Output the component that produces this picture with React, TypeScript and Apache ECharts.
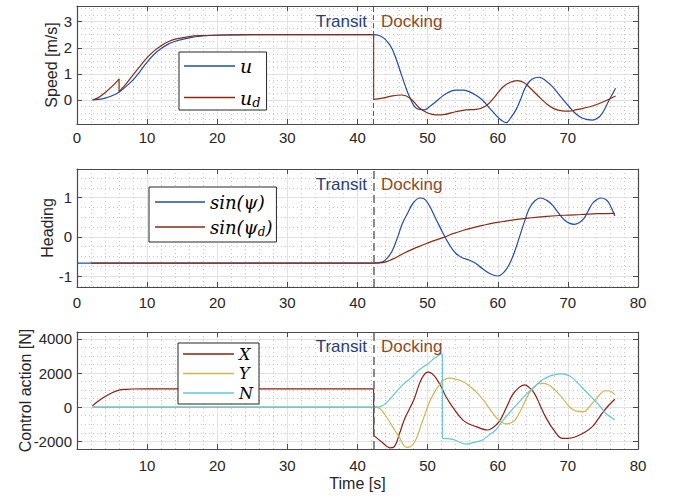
import React, { useEffect, useRef } from 'react';
import * as echarts from 'echarts';

// ---------- data ----------
const phaseTime = 42.3;
const xTickValues = [0, 10, 20, 30, 40, 50, 60, 70, 80];

const speedU = [
  [2.2, 0], [3, 0.02], [4, 0.07], [5, 0.16], [6, 0.3], [7, 0.52], [8, 0.77], [9, 1.1], [10, 1.45], [11, 1.75],
  [12, 1.97], [13, 2.14], [14, 2.25], [16, 2.38], [18, 2.45], [20, 2.48], [25, 2.5], [30, 2.5], [35, 2.5],
  [42.3, 2.5], [43, 2.48], [43.8, 2.36], [44.5, 2.15], [45, 1.92], [45.6, 1.5], [46.2, 1.02], [46.8, 0.55],
  [47.4, 0.13], [48.4, -0.32], [49.5, -0.38], [50.3, -0.25], [51.2, -0.06], [52.5, 0.22], [54, 0.38], [55, 0.38],
  [55.9, 0.32], [56.9, 0.18], [57.8, 0], [58.8, -0.3], [59.7, -0.57], [60.5, -0.78], [61.2, -0.87], [61.8, -0.7],
  [62.6, -0.38], [63.3, 0.05], [64, 0.51], [64.9, 0.8], [65.9, 0.87], [66.8, 0.75], [67.8, 0.51], [69, 0.12],
  [70.2, -0.26], [71.1, -0.52], [72.1, -0.7], [73.5, -0.77], [74.2, -0.7], [74.9, -0.51], [75.8, -0.05], [76.8, 0.45],
];
const speedUd = [
  [2.2, 0], [3, 0.08], [4, 0.28], [5, 0.52], [6, 0.8], [6, 0.32], [7, 0.62], [8, 0.96], [9, 1.3], [10, 1.62],
  [11, 1.88], [12, 2.08], [13, 2.23], [14, 2.33], [16, 2.43], [18, 2.47], [20, 2.49], [25, 2.5], [42.3, 2.5],
  [42.3, 0.02], [43.5, 0.07], [45, 0.16], [46.3, 0.19], [47.5, 0.07], [48.8, -0.3], [50, -0.5], [51.2, -0.57],
  [52.5, -0.55], [54, -0.45], [55.5, -0.38], [56.9, -0.36], [58.3, -0.23], [59.5, 0.1], [60.7, 0.49], [61.8, 0.68],
  [62.8, 0.74], [63.7, 0.67], [64.5, 0.49], [65.7, 0.17], [66.9, -0.13], [68, -0.33], [69.2, -0.42], [70.2, -0.43],
  [71.1, -0.38], [72.3, -0.31], [73.5, -0.23], [75, -0.08], [76.8, 0.15],
];

const headingPsi = [
  [0, -0.67], [42.3, -0.67], [43.6, -0.64], [44.3, -0.53], [45, -0.34], [45.7, -0.02], [46.4, 0.34], [47.2, 0.62],
  [47.9, 0.85], [48.9, 0.99], [49.5, 0.97], [50.2, 0.81], [51.2, 0.45], [52.2, 0.09], [53.1, -0.2], [54, -0.42],
  [55, -0.54], [55.9, -0.59], [56.9, -0.68], [57.8, -0.81], [59, -0.95], [60, -1.0], [60.8, -0.92], [61.6, -0.72],
  [62.4, -0.38], [63.1, 0], [63.8, 0.38], [64.5, 0.72], [65.3, 0.92], [66.1, 0.99], [67, 0.93], [67.8, 0.81],
  [68.7, 0.6], [69.5, 0.43], [70.2, 0.35], [70.9, 0.32], [71.6, 0.36], [72.3, 0.47], [72.9, 0.66], [73.5, 0.85],
  [74.2, 0.96], [74.8, 0.99], [75.4, 0.95], [75.9, 0.85], [76.7, 0.53],
];
const headingPsiD = [
  [2, -0.67], [42.3, -0.67], [43.6, -0.66], [45, -0.57], [46.4, -0.44], [47.8, -0.32], [49.3, -0.21], [50.7, -0.11],
  [52.2, -0.02], [53.6, 0.08], [55, 0.16], [56.4, 0.23], [57.8, 0.29], [59.3, 0.35], [60.7, 0.39], [62.5, 0.44],
  [64.5, 0.48], [67, 0.52], [69.5, 0.55], [72, 0.57], [74.2, 0.59], [76.7, 0.6],
];

const controlX = [
  [2.2, 80], [3, 350], [4, 630], [5, 850], [6, 1000], [7, 1050], [8, 1068], [10, 1076], [20, 1076], [42.3, 1076],
  [42.3, -1650], [43.5, -2050], [44.6, -2380], [45.2, -2330], [46, -1530], [46.7, -700], [47.4, -100], [48.1, 500],
  [48.8, 1350], [49.4, 1850], [50, 2060], [50.6, 1980], [51.2, 1706], [52, 1150], [52.6, 624], [53.5, 50],
  [55, -747], [56, -1000], [56.9, -1140], [58.5, -1335], [59.3, -1200], [60.2, -847], [61.2, -50], [62.1, 724],
  [63, 1150], [63.8, 1312], [64.5, 1150], [65.2, 824], [66, 150], [66.8, -553], [68, -1350], [69.2, -1824],
  [70, -1830], [71.1, -1730], [72.3, -1500], [73.5, -1140], [74.3, -700], [74.9, -353], [75.8, 100], [76.7, 470],
];
const controlY = [
  [2.2, 0], [42.3, 0], [43.1, -60], [44, -500], [45, -1140], [46, -1800], [47, -2350], [47.6, -2300], [48.3, -1920],
  [49.2, -900], [50.2, 235], [51, 900], [51.7, 1312], [52.3, 1600], [53, 1706], [54, 1650], [55, 1506], [56, 1230],
  [56.9, 918], [58, 400], [59.3, -353], [60.3, -800], [61.2, -982], [62, -900], [62.5, -747], [63.5, 0], [64.5, 824],
  [65.3, 1200], [66, 1412], [66.8, 1380], [67.6, 1212], [69, 650], [70.2, 35], [71.2, -230], [72.3, -259], [73, 0],
  [73.9, 429], [74.6, 760], [75.3, 976], [76, 950], [76.7, 724],
];
const controlN = [
  [2.2, 0], [42.3, 0], [43.1, 20], [44.3, 329], [45.2, 750], [46, 1118], [46.8, 1450], [47.6, 1706], [48.2, 1950],
  [48.8, 2194], [49.5, 2400], [50.2, 2600], [51, 2880], [51.9, 3118], [52.1, 3130], [52.1, -1824], [53.6, -1882],
  [55.5, -2159], [56.5, -2080], [57.8, -1924], [58.7, -1650], [59.7, -1335], [60.6, -850], [61.6, -353], [62.8, 200],
  [64, 724], [65.2, 1200], [66.4, 1606], [67.6, 1850], [69, 1959], [70, 1880], [70.7, 1706], [71.5, 1380],
  [72.5, 950], [73.5, 529], [74.5, 100], [75.4, -353], [76.7, -747],
];

const yRanges = [
  { min: -0.92, max: 3.6, step: 1 },
  { min: -1.28, max: 1.73, step: 1 },
  { min: -2450, max: 4410, step: 2000 },
];
const yNames = ['Speed [m/s]', 'Heading', 'Control action [N]'];
const xName = 'Time [s]';

// ---------- styling ----------
const FONT = '"Liberation Sans", Arial, Helvetica, sans-serif';
const MATH = '"DejaVu Serif", serif';
const AX = '#4a4a4a';
const TXT = '#262626';
const C_BLUE = '#1f4cb0';
const C_BROWN = '#8a2b10';
const C_X = '#8e1f10';
const C_Y = '#d3b350';
const C_N = '#62c7da';

const grids = [
  { left: 77, top: 6, width: 561, height: 118 },
  { left: 77, top: 169, width: 561, height: 118 },
  { left: 77, top: 332, width: 561, height: 117 },
];
const yNameGaps = [18, 22, 44];
const xLabelMargins = [6, 8, 9];

function splitJumps(pairs: number[][]) {
  const smooth: (number | null)[][] = [];
  const jumps: (number | null)[][] = [];
  for (let i = 0; i < pairs.length; i++) {
    if (i > 0 && pairs[i][0] === pairs[i - 1][0]) {
      smooth.push([pairs[i][0], null]);
      jumps.push([pairs[i - 1][0], pairs[i - 1][1]], [pairs[i][0], pairs[i][1]], [pairs[i][0], null]);
    }
    smooth.push([pairs[i][0], pairs[i][1]]);
  }
  return { smooth, jumps };
}

function lineSeries(name: string, pairs: number[][], color: string, gi: number, extra: any = {}) {
  const { smooth, jumps } = splitJumps(pairs);
  const base = {
    type: 'line', name, xAxisIndex: gi, yAxisIndex: gi, symbol: 'none', showSymbol: false,
    connectNulls: false, lineStyle: { color, width: 1.2 }, itemStyle: { color }, silent: true,
  };
  const out: any[] = [{ ...base, data: smooth, smooth: 0.4, ...extra }];
  if (jumps.length) out.push({ ...base, data: jumps, smooth: false });
  return out;
}

function vLine(color: string, width: number, dash: number[]) {
  return {
    markLine: {
      silent: true, symbol: 'none', label: { show: false },
      lineStyle: { color, width, type: dash },
      data: [{ xAxis: phaseTime }],
    },
  };
}

const isMult = (v: number, s: number) => Math.abs(v / s - Math.round(v / s)) < 1e-6;

function buildOption() {
  const xAxis: any[] = [];
  const yAxis: any[] = [];
  grids.forEach((_, i) => {
    const hide = (v: number) => (i === 0 && v === 80) || (i === 2 && v === 0);
    xAxis.push({
      type: 'value', gridIndex: i, position: 'bottom', min: xTickValues[0], max: xTickValues[xTickValues.length - 1], interval: 10,
      name: i === 2 ? xName : '', nameLocation: 'middle', nameGap: 26, nameMoveOverlap: false,
      nameTextStyle: { fontSize: 16, fontFamily: FONT, color: TXT },
      axisLine: { show: true, onZero: false, lineStyle: { color: AX, width: 1.2 } },
      axisTick: { show: true, inside: true, length: 5, lineStyle: { color: AX, width: 1 } },
      axisLabel: { show: true, color: TXT, fontSize: 15, fontFamily: FONT, margin: xLabelMargins[i], hideOverlap: false,
        formatter: (v: number) => (hide(v) ? '' : String(v)) },
      splitLine: { show: true, lineStyle: { color: '#e2e2e2', width: 1 } },
      minorTick: { show: true, splitNumber: 5, length: 0, lineStyle: { width: 0 } },
      minorSplitLine: { show: true, lineStyle: { color: '#c6c6c6', width: 1, type: [1, 3] } },
    });
    const r = yRanges[i];
    yAxis.push({
      type: 'value', gridIndex: i, position: 'left', min: r.min, max: r.max, minInterval: r.step, maxInterval: r.step, splitNumber: 4,
      name: yNames[i], nameLocation: 'middle', nameGap: yNameGaps[i], nameRotate: 90, nameMoveOverlap: false,
      nameTextStyle: { fontSize: 16, fontFamily: FONT, color: TXT },
      axisLine: { show: true, onZero: false, lineStyle: { color: AX, width: 1.2 } },
      axisTick: { show: true, inside: true, length: 5, lineStyle: { color: AX, width: 1 } },
      axisLabel: { show: true, color: TXT, fontSize: 15, fontFamily: FONT, margin: 5, hideOverlap: false,
        showMinLabel: true, showMaxLabel: true,
        formatter: (v: number) => (isMult(v, r.step) ? String(Math.round(v)) : '') },
      splitLine: { show: true, lineStyle: { color: '#e2e2e2', width: 1 } },
      minorTick: { show: true, splitNumber: 4, length: 0, lineStyle: { width: 0 } },
      minorSplitLine: { show: true, lineStyle: { color: '#c6c6c6', width: 1, type: [1, 3] } },
    });
  });
  grids.forEach((_, i) => {
    xAxis.push({
      type: 'value', gridIndex: i, position: 'top', min: 0, max: 80, interval: 10,
      axisLine: { show: true, onZero: false, lineStyle: { color: AX, width: 1.2 } },
      axisTick: { show: true, inside: true, length: 5, lineStyle: { color: AX, width: 1 } },
      axisLabel: { show: false }, splitLine: { show: false },
    });
    const r = yRanges[i];
    yAxis.push({
      type: 'value', gridIndex: i, position: 'right', min: r.min, max: r.max, minInterval: r.step, maxInterval: r.step, splitNumber: 4,
      axisLine: { show: true, onZero: false, lineStyle: { color: AX, width: 1.2 } },
      axisTick: { show: true, inside: true, length: 5, lineStyle: { color: AX, width: 1 } },
      axisLabel: { show: false }, splitLine: { show: false },
    });
  });

  const series = [
    ...lineSeries('u', speedU, C_BLUE, 0, vLine('#3a5aa8', 1, [5, 3])),
    ...lineSeries('u_d', speedUd, C_BROWN, 0),
    ...lineSeries('sin(ψ)', headingPsi, C_BLUE, 1, vLine('#666666', 1.5, [8, 4])),
    ...lineSeries('sin(ψ_d)', headingPsiD, C_BROWN, 1),
    ...lineSeries('X', controlX, C_X, 2, vLine('#666666', 1.5, [8, 4])),
    ...lineSeries('Y', controlY, C_Y, 2),
    ...lineSeries('N', controlN, C_N, 2),
  ];

  const fmt: Record<string, string> = {
    'u': '{m|u}',
    'u_d': '{m|u}{s|d}',
    'sin(ψ)': '{m|sin(ψ)}',
    'sin(ψ_d)': '{m|sin(ψ}{s|d}{m|)}',
    'X': '{m|X}', 'Y': '{m|Y}', 'N': '{m|N}',
  };
  const mkLegend = (data: string[], left: number, top: number, size: number, lh: number, gap: number, pad: number[], iw: number) => ({
    data, orient: 'vertical', left, top, itemWidth: iw, itemHeight: 1.6, itemGap: gap, padding: pad, icon: 'rect',
    borderColor: '#262626', borderWidth: 1, backgroundColor: '#ffffff', borderRadius: 0,
    selectedMode: false, formatter: (n: string) => fmt[n] || n,
    textStyle: {
      color: '#000', fontFamily: MATH, fontStyle: 'italic', fontSize: size, lineHeight: lh,
      rich: {
        m: { fontFamily: MATH, fontStyle: 'italic', fontSize: size, lineHeight: lh, color: '#000' },
        s: { fontFamily: MATH, fontStyle: 'italic', fontSize: Math.round(size * 0.68), lineHeight: lh, color: '#000', padding: [Math.round(size * 0.5), 0, 0, 0] },
      },
    },
  });

  const legend = [
    mkLegend(['u', 'u_d'], 179, 52, 19, 20, 10, [4, 6, 1, 5], 51),
    mkLegend(['sin(ψ)', 'sin(ψ_d)'], 149, 187, 18, 22, 3, [4, 4, 4, 6], 50),
    mkLegend(['X', 'Y', 'N'], 178, 343, 16, 18, 1.5, [2, 6, 2, 5], 51),
  ];

  const textY = [21.7, 184.3, 346.7];
  const graphic: any[] = [];
  textY.forEach((y) => {
    graphic.push({ type: 'text', x: 367, y, silent: true, z: 100,
      style: { text: 'Transit', align: 'right', verticalAlign: 'middle', fill: '#27407a', fontSize: 17, fontFamily: FONT } });
    graphic.push({ type: 'text', x: 381, y, silent: true, z: 100,
      style: { text: 'Docking', align: 'left', verticalAlign: 'middle', fill: '#8e4a1e', fontSize: 17, fontFamily: FONT } });
  });

  return {
    animation: false,
    backgroundColor: '#ffffff',
    grid: grids.map((g) => ({ ...g, containLabel: false, outerBoundsMode: 'none', show: false })),
    xAxis, yAxis, series, legend, graphic,
  };
}

export default function App() {
  const ref = useRef<HTMLDivElement>(null);
  useEffect(() => {
    if (!ref.current) return;
    const chart = echarts.init(ref.current, null, { renderer: 'svg' });
    chart.setOption(buildOption() as any);
    return () => chart.dispose();
  }, []);
  return <div ref={ref} style={{ position: 'absolute', left: 0, top: 0, width: 675, height: 500, background: '#fff' }} />;
}
